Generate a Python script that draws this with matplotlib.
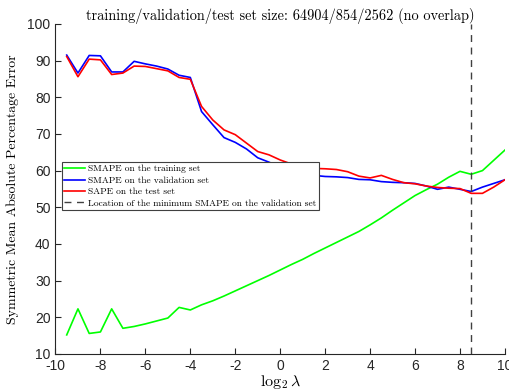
import matplotlib
matplotlib.use('Agg')
import matplotlib.pyplot as plt

plt.rcParams['mathtext.fontset'] = 'cm'
plt.rcParams['axes.unicode_minus'] = False

# log2 of the regularisation parameter
log2_lambda = [-9.5, -9.0, -8.5, -8.0, -7.5, -7.0, -6.5, -6.0, -5.5, -5.0,
               -4.5, -4.0, -3.5, -3.0, -2.5, -2.0, -1.5, -1.0, -0.5, 0.0,
               0.5, 1.0, 1.5, 2.0, 2.5, 3.0, 3.5, 4.0, 4.5, 5.0,
               5.5, 6.0, 6.5, 7.0, 7.5, 8.0, 8.5, 9.0, 9.5, 10.0]

smape_train = [15.2, 22.3, 15.6, 16.0, 22.3, 17.0, 17.5, 18.2, 19.0, 19.8,
               22.7, 22.0, 23.4, 24.5, 25.8, 27.2, 28.6, 30.0, 31.4, 32.9,
               34.4, 35.8, 37.4, 38.9, 40.4, 41.9, 43.4, 45.2, 47.1, 49.2,
               51.2, 53.2, 54.8, 56.3, 58.2, 59.8, 59.0, 60.0, 62.8, 65.6]

smape_val = [91.5, 86.6, 91.4, 91.3, 86.9, 86.9, 89.8, 89.1, 88.5, 87.7,
             86.0, 85.4, 76.1, 72.5, 69.0, 67.7, 65.9, 63.5, 62.3, 61.0,
             60.0, 59.2, 58.7, 58.4, 58.3, 58.1, 57.6, 57.5, 57.0, 56.8,
             56.7, 56.5, 55.8, 54.9, 55.5, 54.9, 54.3, 55.5, 56.5, 57.5]

sape_test = [91.1, 85.6, 90.4, 90.2, 86.2, 86.6, 88.5, 88.4, 87.8, 87.2,
             85.4, 84.9, 77.5, 73.8, 71.1, 69.8, 67.5, 65.2, 64.3, 62.9,
             61.8, 61.0, 60.6, 60.5, 60.3, 59.7, 58.5, 58.0, 58.7, 57.6,
             56.7, 56.4, 55.8, 55.4, 55.2, 55.1, 53.8, 53.8, 55.5, 57.5]

best_log2_lambda = 8.5

serif = ['cmr10']
fig = plt.figure(figsize=(5.09, 3.92), dpi=100)
ax = fig.add_axes([0.109, 0.097, 0.883, 0.842])

ax.plot(log2_lambda, smape_train, color=(0, 1, 0), lw=1.2,
        label='SMAPE on the training set')
ax.plot(log2_lambda, smape_val, color=(0, 0, 1), lw=1.2,
        label='SMAPE on the validation set')
ax.plot(log2_lambda, sape_test, color=(1, 0, 0), lw=1.2,
        label='SAPE on the test set')
ax.axvline(best_log2_lambda, color='#404040', lw=1.0, ls=(0, (5, 4)),
           label='Location of the minimum SMAPE on the validation set')

ax.set_xlim(-10, 10)
ax.set_ylim(10, 100)
ax.set_xticks(range(-10, 11, 2))
ax.set_yticks(range(10, 101, 10))
for s in ['top', 'right']:
    ax.spines[s].set_visible(False)
for s in ['left', 'bottom']:
    ax.spines[s].set_color('#262626')
    ax.spines[s].set_linewidth(0.8)
ax.tick_params(direction='in', length=4, width=0.8, color='#262626',
               labelcolor='#262626', labelsize=10)
for lab in ax.get_xticklabels() + ax.get_yticklabels():
    lab.set_family('Liberation Sans')

ax.set_xlabel(r'$\log_2\lambda$', fontsize=11.5, labelpad=0)
ax.set_ylabel('Symmetric Mean Absolute Percentage Error', family=serif,
              fontsize=10, labelpad=6)
ax.set_title('training/validation/test set size: 64904/854/2562 (no overlap)',
             family=serif, fontsize=10.3, pad=3)

leg = ax.legend(loc='lower left', bbox_to_anchor=(0.0145, 0.436),
                prop={'family': serif, 'size': 6.8}, fancybox=False,
                framealpha=1, edgecolor='#404040', borderpad=0.25,
                labelspacing=0.3, handlelength=2.2, handletextpad=0.3,
                borderaxespad=0)
leg.get_frame().set_linewidth(0.8)

fig.savefig('out.png', dpi=100)
plt.close()
